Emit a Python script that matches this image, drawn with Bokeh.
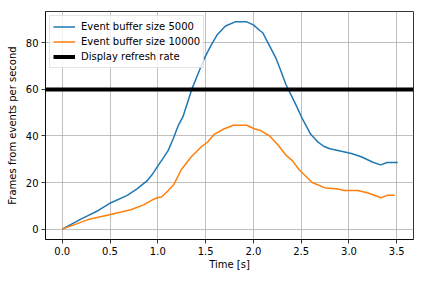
from bokeh.plotting import figure
from bokeh.models import Range1d, FixedTicker, Legend
from bokeh.embed import file_html
from bokeh.resources import INLINE

# Series: time [s] and frames per second
t_5000 = [0.0, 0.185, 0.373, 0.493, 0.68, 0.783, 0.886, 0.948, 1.006, 1.058, 1.109,
          1.16, 1.211, 1.263, 1.355, 1.417, 1.485, 1.554, 1.622, 1.708, 1.81, 1.93, 2.0,
          2.067, 2.1, 2.135, 2.187, 2.238, 2.29, 2.34, 2.39, 2.44, 2.51, 2.6, 2.67,
          2.735, 2.80, 2.92, 3.025, 3.128, 3.25, 3.33, 3.40, 3.51]
fps_5000 = [0, 4.1, 7.9, 11, 14.5, 17.3, 20.7, 23.8, 27.5, 30.6, 33.8,
            38.7, 44.2, 48.3, 60.0, 66.3, 73.2, 78.7, 83.5, 87.2, 89.0, 89.0, 87.7,
            85.3, 84.2, 81.4, 77.3, 73.2, 67.7, 62.1, 58, 53.8, 47.6, 40.7, 37.6,
            35.6, 34.5, 33.4, 32.5, 31.1, 28.7, 27.6, 28.6, 28.6]

t_10000 = [0.0, 0.27, 0.493, 0.716, 0.852, 0.948, 0.99, 1.04, 1.11, 1.17, 1.245,
           1.348, 1.45, 1.52, 1.589, 1.69, 1.79, 1.93, 2.015, 2.067, 2.17, 2.255, 2.34,
           2.41, 2.478, 2.546, 2.615, 2.75, 2.87, 2.957, 3.094, 3.2, 3.335, 3.40, 3.48]
fps_10000 = [0, 4.1, 6.2, 8.3, 10.4, 12.7, 13.5, 13.8, 16.6, 19.3, 25.5,
             31.0, 35.2, 37.3, 40.7, 43, 44.6, 44.6, 43, 42.5, 40, 36.2, 31.8,
             29.3, 25.5, 22.8, 20, 17.7, 17.3, 16.6, 16.6, 15.5, 13.5, 14.5, 14.5]

refresh_rate = [60]

x_ticks = [0.0, 0.5, 1.0, 1.5, 2.0, 2.5, 3.0, 3.5]
y_ticks = [0, 20, 40, 60, 80]

xmin, xmax = 0.0, 3.5
ymin, ymax = 0.0, max(max(fps_5000), max(fps_10000))
mx = 0.05 * (xmax - xmin)
my = 0.05 * (ymax - ymin)

FONT = "DejaVu Sans"

p = figure(width=416, height=272, output_backend="svg", toolbar_location=None,
           x_range=Range1d(xmin - mx, xmax + mx), y_range=Range1d(ymin - my, ymax + my),
           min_border_left=45, min_border_right=3, min_border_top=11, min_border_bottom=32)

p.outline_line_color = "black"
p.outline_line_width = 0.8
p.outline_line_alpha = 1.0

l1 = p.line(t_5000, fps_5000, line_color="#1f77b4", line_width=1.5)
l2 = p.line(t_10000, fps_10000, line_color="#ff7f0e", line_width=1.5)
l3 = p.hspan(y=refresh_rate, line_color="black", line_width=4)

legend = Legend(items=[("Event buffer size 5000", [l1]),
                       ("Event buffer size 10000", [l2]),
                       ("Display refresh rate", [l3])],
                location="top_left")
legend.label_text_font = FONT
legend.label_text_font_size = "10px"
legend.label_text_color = "black"
legend.label_height = 15
legend.glyph_height = 15
legend.glyph_width = 22
legend.label_standoff = 6
legend.spacing = 0
legend.padding = 3
legend.margin = 4
legend.border_line_color = "#cccccc"
legend.border_line_width = 1
legend.background_fill_alpha = 0.8
p.add_layout(legend)

for ax in (p.xaxis[0], p.yaxis[0]):
    ax.major_tick_out = 4
    ax.major_tick_in = 0
    ax.minor_tick_out = 0
    ax.minor_tick_in = 0
    ax.major_tick_line_color = "black"
    ax.major_tick_line_width = 0.8
    ax.axis_line_color = "black"
    ax.axis_line_width = 0.8
    ax.major_label_text_font = FONT
    ax.major_label_text_font_size = "10px"
    ax.major_label_text_color = "black"
    ax.major_label_standoff = 3
    ax.axis_label_text_font = FONT
    ax.axis_label_text_font_size = "10px"
    ax.axis_label_text_font_style = "normal"
    ax.axis_label_text_color = "black"

p.xaxis[0].ticker = FixedTicker(ticks=x_ticks)
p.xaxis[0].major_label_overrides = {v: f"{v:.1f}" for v in x_ticks}
p.yaxis[0].ticker = FixedTicker(ticks=y_ticks)
p.xaxis[0].axis_label = "Time [s]"
p.yaxis[0].axis_label = "Frames from events per second"
p.xaxis[0].axis_label_standoff = 1
p.yaxis[0].axis_label_standoff = 5

p.xgrid[0].ticker = FixedTicker(ticks=x_ticks)
p.ygrid[0].ticker = FixedTicker(ticks=y_ticks)
for g in (p.xgrid[0], p.ygrid[0]):
    g.grid_line_color = "#b0b0b0"
    g.grid_line_width = 0.8

open("out.html", "w").write(file_html(p, INLINE))
